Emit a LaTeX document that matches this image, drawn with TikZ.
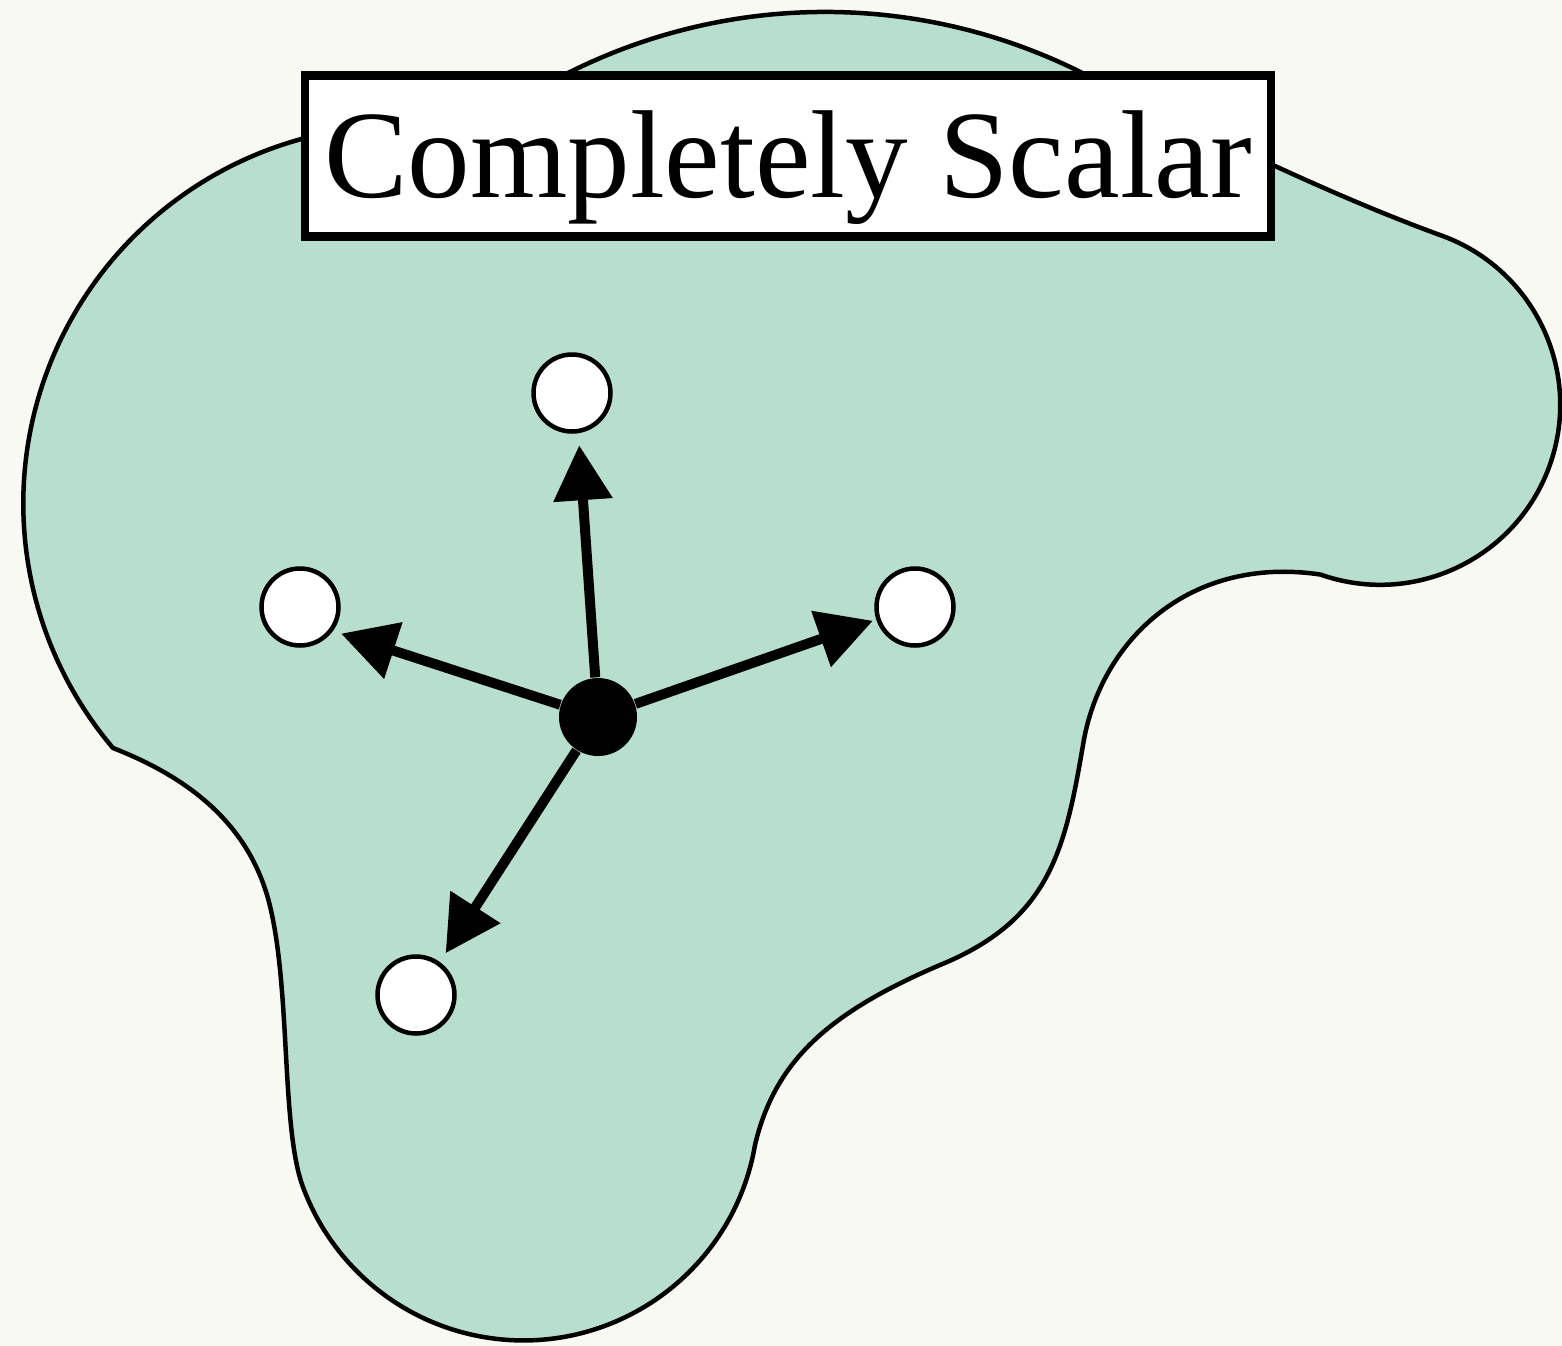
\documentclass[tikz,border=0pt]{standalone}
\usepackage{fontspec}
\setmainfont{Liberation Serif}
\usetikzlibrary{arrows.meta,positioning}
\definecolor{scalarBg}{RGB}{249,249,243}
\definecolor{scalarGreen}{RGB}{184,223,206}

\begin{document}
\begin{tikzpicture}[x=0.1mm, y=-0.1mm,
    dot/.style={circle, draw=black, fill=white, line width=0.045cm,
                minimum size=0.77cm, inner sep=0pt},
    hub/.style={circle, fill=black, minimum size=0.78cm, inner sep=0pt},
    arr/.style={-{Triangle[length=0.55cm,width=0.57cm]}, line width=0.1cm},
    banner/.style={rectangle, draw=black, fill=white, line width=0.085cm,
                   minimum width=9.66cm, minimum height=1.61cm, inner sep=0pt,
                   text height=1.12cm, text depth=0.3cm,
                   font=\fontsize{35.6}{40}\selectfont}
  ]
  \fill[scalarBg] (0,0) rectangle (1562,1346);
  \useasboundingbox (0,0) rectangle (1562,1346);

  % the region
  \filldraw[fill=scalarGreen, draw=black, line width=0.045cm]
    (570,72) arc[start angle=-116.5, end angle=-63.5, radius=572]
    .. controls (1201,132) and (1330,195) .. (1440,235)
    arc[start angle=-70.6, end angle=109.4, radius=180]
    .. controls (1190,555) and (1100,640) .. (1083,745)
    .. controls (1065,850) and (1050,920) .. (940,965)
    .. controls (830,1012) and (775,1060) .. (755,1145)
    arc[start angle=9.7, end angle=160, radius=235]
    .. controls (282,1129) and (290,1000) .. (272,915)
    .. controls (255,830) and (195,780) .. (113,748)
    arc[start angle=139.7, end angle=254.7, radius=378]
    .. controls (396,114) and (498,108) .. (570,72) -- cycle;

  \node[hub] (hub) at (598,717) {};
  \node[dot] (top) at (572,393) {};
  \node[dot] (lft) at (300,607) {};
  \node[dot] (rgt) at (915,607) {};
  \node[dot] (btm) at (416,995) {};

  \draw[arr, shorten >=0.12cm]  (hub) -- (top.-81);
  \draw[arr, shorten >=0.085cm] (hub) -- (lft.-36);
  \draw[arr, shorten >=0.035cm] (hub) -- (rgt.-162);
  \draw[arr, shorten >=0.105cm] (hub) -- (btm.54);

  \node[banner] (title) at (788,156) {Completely Scalar};
\end{tikzpicture}
\end{document}
